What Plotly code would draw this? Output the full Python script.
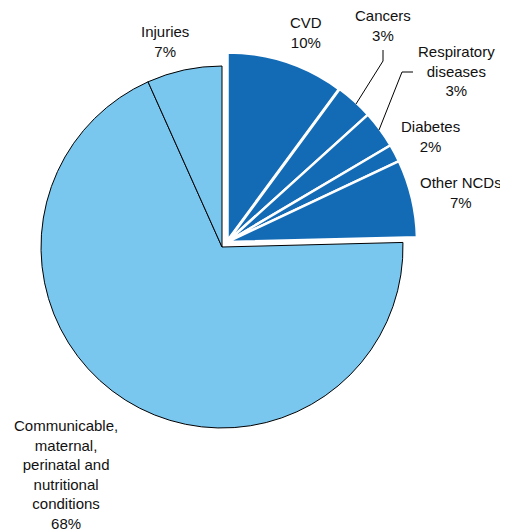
import plotly.graph_objects as go

# page body has an 8px default margin; the figure is sized to fit the window
OFF = 8
W, H = 508 - OFF, 531 - OFF

categories = ["CVD", "Cancers", "Respiratory diseases", "Diabetes", "Other NCDs",
              "Communicable, maternal, perinatal and nutritional conditions", "Injuries"]
values = [10.1, 3.2, 3.2, 1.5, 6.6, 68.7, 6.7]
pct_labels = ["10%", "3%", "3%", "2%", "7%", "68%", "7%"]
is_ncd = [True, True, True, True, True, False, False]
label_text = ["CVD", "Cancers", "Respiratory<br>diseases", "Diabetes", "Other NCDs",
              "Communicable,<br>maternal,<br>perinatal and<br>nutritional<br>conditions", "Injuries"]

DARK = "#136bb6"
LIGHT = "#79c6ef"
CLEAR = "rgba(0,0,0,0)"


def sx(px):
    return (px - OFF) / W


def sy(py):
    return 1 - (py - OFF) / H


def dom(cx, cy, r):
    return dict(x=[sx(cx - r), sx(cx + r)], y=[sy(cy + r), sy(cy - r)])


fig = go.Figure()

# light (non-NCD) pie
fig.add_trace(go.Pie(
    labels=categories, values=values, sort=False, direction="clockwise", rotation=0,
    textinfo="none", hoverinfo="label+percent", showlegend=False,
    marker=dict(colors=[CLEAR if n else LIGHT for n in is_ncd],
                line=dict(color=[CLEAR if n else "#000000" for n in is_ncd],
                          width=[0 if n else 1 for n in is_ncd])),
    domain=dom(222, 247, 181),
))

# exploded NCD group
fig.add_trace(go.Pie(
    labels=categories, values=values, sort=False, direction="clockwise", rotation=0,
    textinfo="none", hoverinfo="label+percent", showlegend=False,
    marker=dict(colors=[DARK if n else CLEAR for n in is_ncd],
                line=dict(color=["#ffffff" if n else CLEAR for n in is_ncd],
                          width=[3.5, 2.5, 2.5, 2.5, 2.5, 0, 0])),
    domain=dom(227, 242, 190),
))

# label positions (window pixel centres)
label_pos = [(306, 32), (383, 25), (456, 71), (430, 136), (461, 192), (66, 474), (165, 41)]

for txt, pct, (px, py) in zip(label_text, pct_labels, label_pos):
    fig.add_annotation(
        x=sx(px), y=sy(py), xref="paper", yref="paper",
        text=f"{txt}<br>{pct}", showarrow=False, align="center",
        xanchor="center", yanchor="middle",
        font=dict(family="Liberation Sans, Arial, sans-serif", size=15, color="#111111"),
    )


def path(points):
    return "M " + " L ".join(f"{sx(x)},{sy(y)}" for x, y in points)


leaders = [[(356, 104), (383, 61), (383, 50)],
           [(379, 130), (402, 72), (413, 72)]]
for pts in leaders:
    fig.add_shape(type="path", xref="paper", yref="paper", path=path(pts),
                  line=dict(color="#000000", width=1))

fig.update_layout(
    width=W, height=H,
    margin=dict(l=0, r=0, t=0, b=0),
    paper_bgcolor="white", plot_bgcolor="white",
)

fig.write_html("out.html")
